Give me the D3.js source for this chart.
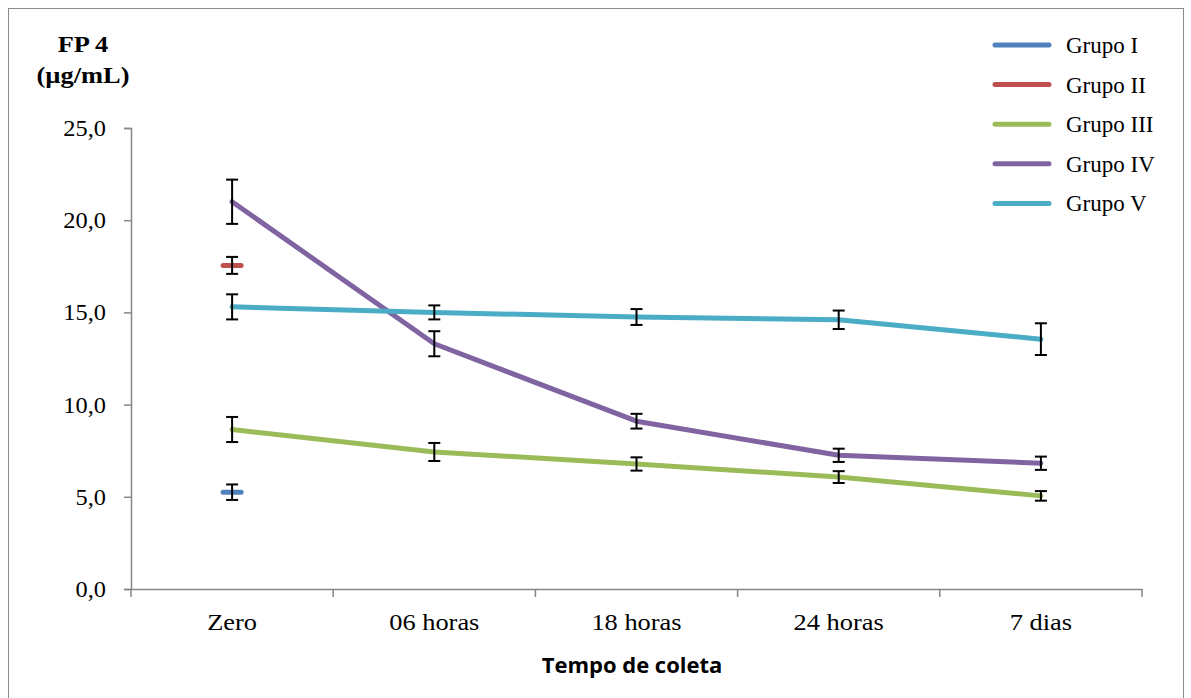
<!DOCTYPE html>
<html>
<head>
<meta charset="utf-8">
<script src="https://cdn.jsdelivr.net/npm/d3@7/dist/d3.min.js"></script>
<style>
  html, body { margin: 0; padding: 0; background: #fff; }
  svg { display: block; }
</style>
</head>
<body>
<svg id="chart" width="1191" height="698"></svg>
<script>
// Collection times (x categories)
const categories = ["Zero", "06 horas", "18 horas", "24 horas", "7 dias"];
// Y axis tick values and their labels (decimal comma)
const yTicks = [0, 5, 10, 15, 20, 25];
const yTickLabels = ["0,0", "5,0", "10,0", "15,0", "20,0", "25,0"];

// Group names, colours
const groupNames = ["Grupo I", "Grupo II", "Grupo III", "Grupo IV", "Grupo V"];
const groupColors = ["#4F81BD", "#C0504D", "#9BBB59", "#8064A2", "#4BACC6"];

// Mean FP 4 values (µg/mL); null where not measured
const grupoI   = [5.25, null, null, null, null];
const grupoII  = [17.55, null, null, null, null];
const grupoIII = [8.65, 7.43, 6.78, 6.07, 5.05];
const grupoIV  = [21.0, 13.3, 9.1, 7.25, 6.82];
const grupoV   = [15.3, 15.0, 14.75, 14.6, 13.55];

// Error (± deviation)
const errI   = [0.42, null, null, null, null];
const errII  = [0.46, null, null, null, null];
const errIII = [0.68, 0.49, 0.36, 0.32, 0.26];
const errIV  = [1.2, 0.68, 0.4, 0.36, 0.36];
const errV   = [0.68, 0.38, 0.43, 0.5, 0.86];

const series = [grupoI, grupoII, grupoIII, grupoIV, grupoV];
const errors = [errI, errII, errIII, errIV, errV];

const svg = d3.select("#chart");
const W = 1191, H = 698;

// Outer frame (bottom edge runs below the visible area)
svg.append("rect")
  .attr("x", 8.5).attr("y", 8.5)
  .attr("width", 1175).attr("height", H + 10)
  .attr("fill", "none").attr("stroke", "#8c8c8c").attr("stroke-width", 1);

const plot = { left: 131, right: 1142, top: 128, bottom: 589 };

const x = d3.scaleBand().domain(categories).range([plot.left, plot.right]).padding(0);
const y = d3.scaleLinear().domain([0, 25]).range([plot.bottom, plot.top]);
const cx = c => x(c) + x.bandwidth() / 2;

const serif = "'Liberation Serif', 'Times New Roman', serif";
const axisColor = "#868686";

// Y axis
const yAxis = d3.axisLeft(y).tickValues(yTicks)
  .tickFormat((d, i) => yTickLabels[i]).tickSize(7);
const gy = svg.append("g").attr("transform", `translate(${plot.left},0)`).call(yAxis);
gy.select(".domain").attr("stroke", axisColor).attr("stroke-width", 1.5);
gy.selectAll(".tick line").attr("stroke", axisColor).attr("stroke-width", 1.5);
gy.selectAll(".tick text")
  .attr("x", 0).attr("dy", "0.33em")
  .attr("transform", "translate(-25,0) scale(1.06,1)")
  .style("font-family", serif).style("font-size", "23px").attr("fill", "#000");

// X axis with ticks at band edges
const xAxis = d3.axisBottom(x).tickSize(0);
const gx = svg.append("g").attr("transform", `translate(0,${plot.bottom})`).call(xAxis);
gx.select(".domain").attr("stroke", axisColor).attr("stroke-width", 1.5);
gx.selectAll(".tick text")
  .attr("y", 0).attr("dy", 0)
  .attr("transform", "translate(0,41) scale(1.1,1)")
  .style("font-family", serif).style("font-size", "24px").attr("fill", "#000");
const edges = categories.map(c => x(c)).concat([plot.right]);
gx.selectAll("line.edge").data(edges).enter().append("line")
  .attr("class", "edge")
  .attr("x1", d => d).attr("x2", d => d)
  .attr("y1", 0).attr("y2", 8)
  .attr("stroke", axisColor).attr("stroke-width", 1.5);

// Axis titles
const yTitle = svg.append("text")
  .attr("transform", "translate(83,0) scale(1.1,1)")
  .style("font-family", serif).style("font-size", "24px").style("font-weight", "bold")
  .attr("text-anchor", "middle").attr("fill", "#000");
yTitle.append("tspan").attr("x", 0).attr("y", 52).text("FP 4");
yTitle.append("tspan").attr("x", 0).attr("y", 83).text("(µg/mL)");

svg.append("text")
  .attr("x", 632).attr("y", 673)
  .style("font-family", "'Open Sans', 'Liberation Sans', sans-serif")
  .style("font-size", "22px").style("font-weight", "bold")
  .attr("text-anchor", "middle").attr("fill", "#000")
  .text("Tempo de coleta");

// Lines (and short dash marks for single-point groups)
const line = d3.line()
  .defined(d => d.v != null)
  .x(d => cx(d.c)).y(d => y(d.v));

series.forEach((vals, si) => {
  const pts = vals.map((v, i) => ({ c: categories[i], v }));
  const valid = pts.filter(p => p.v != null);
  if (valid.length > 1) {
    svg.append("path").datum(pts)
      .attr("d", line)
      .attr("fill", "none").attr("stroke", groupColors[si])
      .attr("stroke-width", 5).attr("stroke-linejoin", "round").attr("stroke-linecap", "round");
  } else {
    valid.forEach(p => {
      svg.append("line")
        .attr("x1", cx(p.c) - 9).attr("x2", cx(p.c) + 9)
        .attr("y1", y(p.v)).attr("y2", y(p.v))
        .attr("stroke", groupColors[si]).attr("stroke-width", 5)
        .attr("stroke-linecap", "round");
    });
  }
});

// Error bars
series.forEach((vals, si) => {
  vals.forEach((v, i) => {
    const e = errors[si][i];
    if (v == null || e == null) return;
    const xc = cx(categories[i]);
    const g = svg.append("g").attr("stroke", "#000").attr("stroke-width", 2);
    g.append("line").attr("x1", xc).attr("x2", xc).attr("y1", y(v + e)).attr("y2", y(v - e));
    g.append("line").attr("x1", xc - 6).attr("x2", xc + 6).attr("y1", y(v + e)).attr("y2", y(v + e));
    g.append("line").attr("x1", xc - 6).attr("x2", xc + 6).attr("y1", y(v - e)).attr("y2", y(v - e));
  });
});

// Legend
const legend = svg.append("g");
groupNames.forEach((name, i) => {
  const ly = 45 + i * 39.6;
  legend.append("line")
    .attr("x1", 995).attr("x2", 1049).attr("y1", ly).attr("y2", ly)
    .attr("stroke", groupColors[i]).attr("stroke-width", 5).attr("stroke-linecap", "round");
  legend.append("text")
    .attr("x", 1066).attr("y", ly + 8)
    .style("font-family", serif).style("font-size", "23px").attr("fill", "#000")
    .text(name);
});
</script>
</body>
</html>
